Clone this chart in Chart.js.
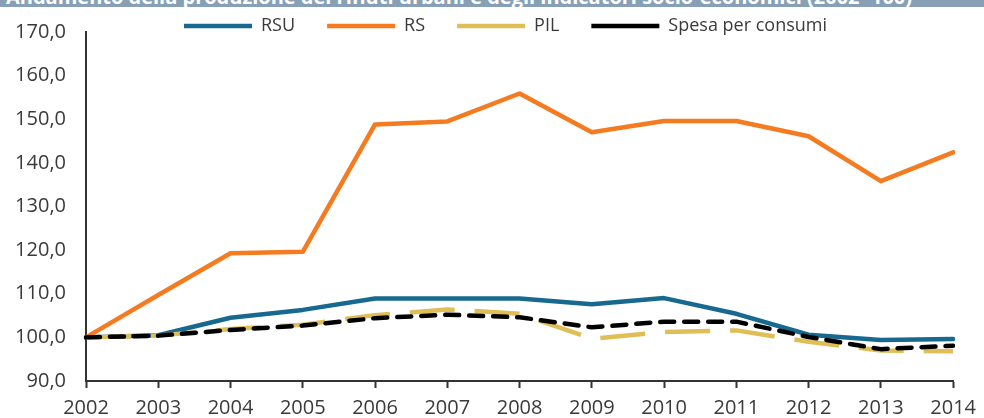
<!DOCTYPE html>
<html>
<head>
<meta charset="utf-8">
<script src="https://cdn.jsdelivr.net/npm/chart.js@4"></script>
<style>
  body { margin: 0; background: #fff; overflow: hidden; }
  #wrap { position: relative; width: 984px; height: 418px; }
  #titlebar {
    position: absolute; left: 0; top: 0; width: 984px; height: 7px;
    background: #87a0b6; overflow: hidden; z-index: 2;
  }
  #titlebar span {
    position: absolute; left: 6px; top: -15px; white-space: nowrap;
    font: bold 20px/24px "Open Sans", sans-serif; color: #fff;
  }
</style>
</head>
<body>
<div id="wrap">
  <div id="titlebar"><span>Andamento della produzione dei rifiuti urbani e degli indicatori socio-economici (2002=100)</span></div>
  <canvas id="chart"></canvas>
</div>
<script>
const years = ["2002", "2003", "2004", "2005", "2006", "2007", "2008", "2009", "2010", "2011", "2012", "2013", "2014"];
const rsu   = [100, 100.5, 104.5, 106.3, 108.9, 108.9, 108.9, 107.6, 109.0, 105.4, 100.6, 99.4, 99.6];
const rs    = [100, 109.7, 119.3, 119.6, 148.8, 149.5, 155.9, 147.0, 149.6, 149.6, 146.1, 135.8, 142.4];
const pil   = [100, 100.4, 101.9, 102.9, 105.1, 106.4, 105.4, 99.7, 101.2, 101.6, 99.0, 97.0, 96.8];
const spesa = [100, 100.4, 101.7, 102.7, 104.4, 105.2, 104.6, 102.3, 103.6, 103.6, 100.1, 97.3, 98.1];

const axisColor = "#333333";
const textColor = "#3a3a3a";

// legend lives inside the plot area, laid out in one row just under the top edge
const legendInside = {
    id: "legendInside",
    beforeLayout(chart) {
        if (chart.legend) chart.legend.isHorizontal = () => true;
    },
    afterLayout(chart) {
        const lg = chart.legend;
        lg.top = chart.chartArea.top - 47;
        lg.left = chart.chartArea.left + 66;
    }
};

function line(label, data, color, width, dash, cap, order) {
    return {
        label: label,
        data: data,
        borderColor: color,
        backgroundColor: color,
        borderWidth: width,
        borderDash: dash,
        borderCapStyle: cap,
        borderJoinStyle: "round",
        pointRadius: 0,
        tension: 0,
        fill: false,
        order: order
    };
}

new Chart(document.getElementById("chart"), {
    type: "line",
    data: {
        labels: years,
        datasets: [
            line("RSU", rsu, "#17698f", 4.5, [], "round", 2),
            line("RS", rs, "#f47b20", 4.5, [], "round", 3),
            line("PIL", pil, "#dfbf55", 4.5, [45, 20], "butt", 1),
            line("Spesa per consumi", spesa, "#000000", 4.5, [14, 10], "round", 0)
        ]
    },
    options: {
        responsive: true,
        maintainAspectRatio: false,
        animation: false,
        layout: { padding: { top: 21, right: 27, left: 0, bottom: 0 } },
        plugins: {
            legend: {
                position: "chartArea",
                align: "start",
                labels: {
                    usePointStyle: true,
                    pointStyle: "line",
                    pointStyleWidth: 68,
                    padding: 32,
                    color: textColor,
                    font: { family: "'Open Sans', sans-serif", size: 18 },
                    sort: (a, b) => a.datasetIndex - b.datasetIndex
                }
            },
            tooltip: { enabled: false }
        },
        scales: {
            x: {
                offset: false,
                grid: {
                    display: true,
                    drawOnChartArea: false,
                    drawTicks: true,
                    tickLength: 7,
                    tickWidth: 2,
                    tickColor: axisColor
                },
                border: { color: axisColor, width: 2 },
                ticks: {
                    color: textColor,
                    padding: 8,
                    maxRotation: 0,
                    font: { family: "'Open Sans', sans-serif", size: 20 }
                },
                afterFit: s => { s.height = 37; }
            },
            y: {
                min: 90,
                max: 170,
                grid: { display: false, drawTicks: false },
                border: { color: axisColor, width: 2 },
                ticks: {
                    stepSize: 10,
                    color: textColor,
                    padding: 20,
                    font: { family: "'Open Sans', sans-serif", size: 20 },
                    callback: v => v.toFixed(1).replace(".", ",")
                },
                afterFit: s => { s.width = 86; }
            }
        }
    },
    plugins: [legendInside]
});
</script>
</body>
</html>
